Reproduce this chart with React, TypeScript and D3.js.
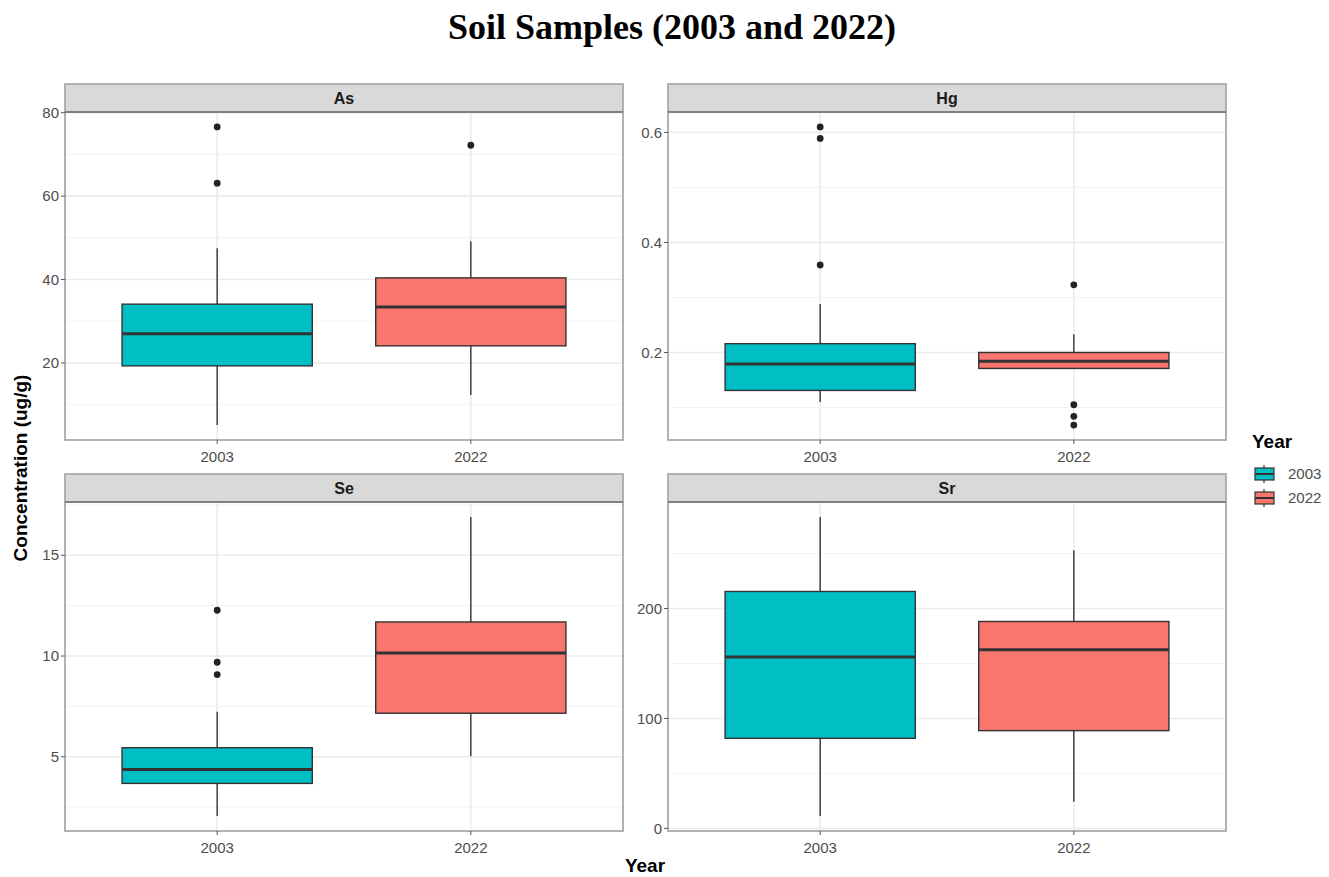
import React, { useEffect, useRef } from 'react';
import * as d3 from 'd3';

// box stats per element and year: [lower whisker, q1, median, q3, upper whisker]
const years = ['2003', '2022'];
const elements = ['As', 'Hg', 'Se', 'Sr'];

const asStats = [[5.1, 19.3, 27.0, 34.1, 47.5], [12.3, 24.1, 33.4, 40.4, 49.2]];
const asOutliers = [[63.1, 76.6], [72.2]];
const asTicks = [20, 40, 60, 80];

const hgStats = [[0.110, 0.131, 0.179, 0.216, 0.288], [0.170, 0.171, 0.184, 0.200, 0.233]];
const hgOutliers = [[0.359, 0.589, 0.610], [0.323, 0.105, 0.084, 0.068]];
const hgTicks = [0.2, 0.4, 0.6];

const seStats = [[2.06, 3.68, 4.37, 5.45, 7.23], [5.03, 7.16, 10.15, 11.69, 16.9]];
const seOutliers = [[9.08, 9.69, 12.27], []];
const seTicks = [5, 10, 15];

const srStats = [[11.2, 81.9, 155.8, 215.5, 283.3], [24.2, 88.9, 162.5, 188.2, 252.9]];
const srOutliers = [[], []];
const srTicks = [0, 100, 200];

const colors = ['#00BFC4', '#F8766D'];

const App = () => {
  const ref = useRef(null);

  useEffect(() => {
    const svg = d3.select(ref.current);
    svg.selectAll('*').remove();
    const sans = '"Liberation Sans", Arial, sans-serif';

    const panels = [
      { name: 'As', stats: asStats, out: asOutliers, ticks: asTicks, fmt: d3.format('d'), col: 0, row: 0 },
      { name: 'Hg', stats: hgStats, out: hgOutliers, ticks: hgTicks, fmt: d3.format('.1f'), col: 1, row: 0 },
      { name: 'Se', stats: seStats, out: seOutliers, ticks: seTicks, fmt: d3.format('d'), col: 0, row: 1 },
      { name: 'Sr', stats: srStats, out: srOutliers, ticks: srTicks, fmt: d3.format('d'), col: 1, row: 1 },
    ];
    const colX = [65, 668];
    const panelW = 558;
    const rows = [{ strip: 84, top: 112, bottom: 440 }, { strip: 474, top: 502, bottom: 831 }];

    // title
    svg.append('text')
      .attr('x', 672).attr('y', 39)
      .attr('text-anchor', 'middle')
      .style('font-family', '"Liberation Serif", "Times New Roman", serif')
      .style('font-weight', 'bold')
      .style('font-size', '36px')
      .text('Soil Samples (2003 and 2022)');

    panels.forEach(p => {
      const x0 = colX[p.col];
      const r = rows[p.row];
      const g = svg.append('g');

      const all = p.stats.flat().concat(p.out.flat());
      const lo = d3.min(all), hi = d3.max(all);
      const pad = (hi - lo) * 0.05;
      const y = d3.scaleLinear().domain([lo - pad, hi + pad]).range([r.bottom, r.top]);
      const x = d3.scalePoint().domain(years).range([x0, x0 + panelW]).padding(0.6);
      const bw = x.step() * 0.75;

      g.append('rect')
        .attr('x', x0).attr('y', r.top).attr('width', panelW).attr('height', r.bottom - r.top)
        .attr('fill', 'white');

      // minor grid
      const major = p.ticks;
      const step = major[1] - major[0];
      const minor = d3.range(major[0] - step / 2, hi + pad, step).filter(v => v > lo - pad && v < hi + pad);
      g.selectAll('.minor').data(minor).enter().append('line')
        .attr('x1', x0).attr('x2', x0 + panelW)
        .attr('y1', d => y(d)).attr('y2', d => y(d))
        .attr('stroke', '#f3f3f3').attr('stroke-width', 1);
      g.selectAll('.major').data(major).enter().append('line')
        .attr('x1', x0).attr('x2', x0 + panelW)
        .attr('y1', d => y(d)).attr('y2', d => y(d))
        .attr('stroke', '#ebebeb').attr('stroke-width', 1.6);
      g.selectAll('.vmajor').data(years).enter().append('line')
        .attr('x1', d => x(d)).attr('x2', d => x(d))
        .attr('y1', r.top).attr('y2', r.bottom)
        .attr('stroke', '#ebebeb').attr('stroke-width', 1.6);

      // boxes
      years.forEach((yr, i) => {
        const [wl, q1, med, q3, wu] = p.stats[i];
        const cx = x(yr);
        g.append('line').attr('x1', cx).attr('x2', cx).attr('y1', y(q3)).attr('y2', y(wu))
          .attr('stroke', '#333').attr('stroke-width', 1.4);
        g.append('line').attr('x1', cx).attr('x2', cx).attr('y1', y(q1)).attr('y2', y(wl))
          .attr('stroke', '#333').attr('stroke-width', 1.4);
        g.append('rect')
          .attr('x', cx - bw / 2).attr('y', y(q3)).attr('width', bw).attr('height', y(q1) - y(q3))
          .attr('fill', colors[i]).attr('stroke', '#333').attr('stroke-width', 1.4);
        g.append('line').attr('x1', cx - bw / 2).attr('x2', cx + bw / 2).attr('y1', y(med)).attr('y2', y(med))
          .attr('stroke', '#333').attr('stroke-width', 3);
        g.selectAll(null).data(p.out[i]).enter().append('circle')
          .attr('cx', cx).attr('cy', d => y(d)).attr('r', 3.4)
          .attr('fill', '#222');
      });

      // border
      g.append('rect')
        .attr('x', x0).attr('y', r.top).attr('width', panelW).attr('height', r.bottom - r.top)
        .attr('fill', 'none').attr('stroke', '#aaaaaa').attr('stroke-width', 1.8);

      // strip
      g.append('rect')
        .attr('x', x0).attr('y', r.strip).attr('width', panelW).attr('height', r.top - r.strip)
        .attr('fill', '#d9d9d9').attr('stroke', '#aaaaaa').attr('stroke-width', 1.8);
      g.append('line').attr('x1', x0).attr('x2', x0 + panelW).attr('y1', r.top).attr('y2', r.top)
        .attr('stroke', '#808080').attr('stroke-width', 2.2);
      g.append('text')
        .attr('x', x0 + panelW / 2).attr('y', (r.strip + r.top) / 2)
        .attr('dy', '0.36em').attr('text-anchor', 'middle')
        .style('font-family', sans).style('font-weight', 'bold').style('font-size', '16px')
        .attr('fill', '#1a1a1a')
        .text(p.name);

      // y axis
      g.selectAll('.yt').data(major).enter().append('line')
        .attr('x1', x0 - 4).attr('x2', x0).attr('y1', d => y(d)).attr('y2', d => y(d))
        .attr('stroke', '#555').attr('stroke-width', 1);
      g.selectAll('.yl').data(major).enter().append('text')
        .attr('x', x0 - 6).attr('y', d => y(d)).attr('dy', '0.35em')
        .attr('text-anchor', 'end')
        .style('font-family', sans).style('font-size', '15px').attr('fill', '#4d4d4d')
        .text(d => p.fmt(d));

      // x axis
      g.selectAll('.xt').data(years).enter().append('line')
        .attr('x1', d => x(d)).attr('x2', d => x(d)).attr('y1', r.bottom).attr('y2', r.bottom + 4)
        .attr('stroke', '#555').attr('stroke-width', 1);
      g.selectAll('.xl').data(years).enter().append('text')
        .attr('x', d => x(d)).attr('y', r.bottom + 22)
        .attr('text-anchor', 'middle')
        .style('font-family', sans).style('font-size', '15px').attr('fill', '#4d4d4d')
        .text(d => d);
    });

    // axis titles
    svg.append('text')
      .attr('x', 645).attr('y', 872).attr('text-anchor', 'middle')
      .style('font-family', sans).style('font-weight', 'bold').style('font-size', '19px')
      .text('Year');
    svg.append('text')
      .attr('transform', 'translate(27,468) rotate(-90)').attr('text-anchor', 'middle')
      .style('font-family', sans).style('font-weight', 'bold').style('font-size', '19px')
      .text('Concentration (ug/g)');

    // legend
    const leg = svg.append('g');
    leg.append('text')
      .attr('x', 1252).attr('y', 448)
      .style('font-family', sans).style('font-weight', 'bold').style('font-size', '19px')
      .text('Year');
    years.forEach((yr, i) => {
      const cy = 474 + i * 24;
      leg.append('line').attr('x1', 1264).attr('x2', 1264).attr('y1', cy - 9).attr('y2', cy + 9)
        .attr('stroke', '#333').attr('stroke-width', 1.2);
      leg.append('rect').attr('x', 1255).attr('y', cy - 6).attr('width', 19).attr('height', 12)
        .attr('fill', colors[i]).attr('stroke', '#333').attr('stroke-width', 1.2);
      leg.append('line').attr('x1', 1255).attr('x2', 1274).attr('y1', cy).attr('y2', cy)
        .attr('stroke', '#333').attr('stroke-width', 2);
      leg.append('text')
        .attr('x', 1288).attr('y', cy).attr('dy', '0.35em')
        .style('font-family', sans).style('font-size', '15px').attr('fill', '#4d4d4d')
        .text(yr);
    });
  }, []);

  return (
    <svg ref={ref} width={1329} height={877}
      style={{ position: 'absolute', left: 0, top: 0, background: 'white', display: 'block' }} />
  );
};

export default App;
